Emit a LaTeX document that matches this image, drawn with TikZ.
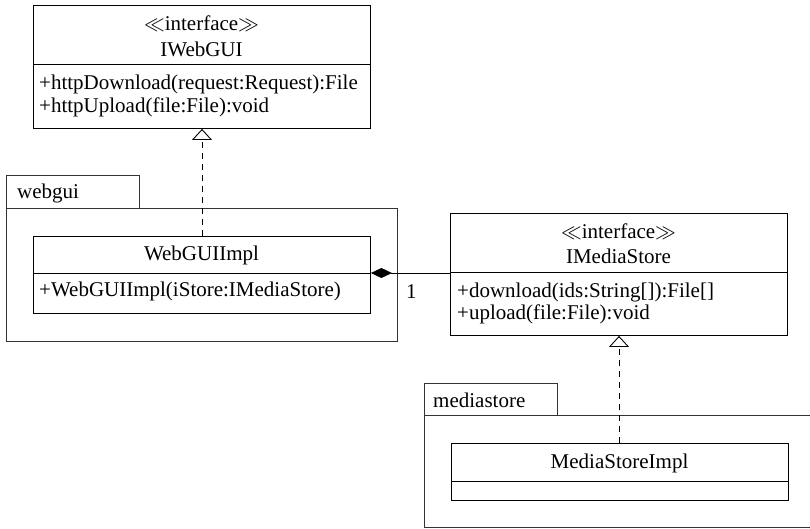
\documentclass[tikz,border=0pt]{standalone}
\usepackage{fontspec}
\setmainfont{Liberation Serif}
\usetikzlibrary{arrows.meta}
\tikzset{
  umlbox/.style={draw, line width=0.9pt, anchor=north west, inner sep=0pt},
  pkgbox/.style={draw, line width=0.9pt, draw=black!80, anchor=north west, inner sep=0pt},
  txt/.style={inner sep=0pt, font=\fontsize{21}{25}\selectfont},
  realize/.style={line width=0.9pt, dash pattern=on 6pt off 5pt, -{Triangle[open, length=11pt, width=20pt]}},
  compose/.style={line width=0.9pt, {Diamond[length=21pt, width=10pt]}-},
}
\begin{document}
\begin{tikzpicture}[x=1pt, y=-1pt]
\useasboundingbox (0,0) rectangle (810,528);
% packages
\node[pkgbox, minimum width=133pt, minimum height=33pt] (webguitab) at (6,175) {};
\node[pkgbox, minimum width=391pt, minimum height=133pt] (webguipkg) at (6,208) {};
\node[txt, anchor=base west] (webguilbl) at (17,198) {webgui};
\node[pkgbox, minimum width=133pt, minimum height=32pt] (mstab) at (424,383) {};
\node[pkgbox, minimum width=420pt, minimum height=111.5pt] (mspkg) at (424,415) {};
\node[txt, anchor=base west] (mslbl) at (433,407) {mediastore};
% IWebGUI
\node[umlbox, fill=white, minimum width=337pt, minimum height=123pt] (iwebgui) at (33,5) {};
\draw[line width=0.9pt] (33,64) -- (370,64);
\node[txt, anchor=base] (iwebguist) at (201.5,30) {$\ll$interface$\gg$};
\node[txt, anchor=base] (iwebguiname) at (201.5,56) {IWebGUI};
\node[txt, anchor=base west] (iwebguim1) at (39,89) {+httpDownload(request:Request):File};
\node[txt, anchor=base west] (iwebguim2) at (39,112) {+httpUpload(file:File):void};
% WebGUIImpl
\node[umlbox, fill=white, minimum width=337pt, minimum height=77pt] (webguiimpl) at (33,236) {};
\draw[line width=0.9pt] (33,273) -- (370,273);
\node[txt, anchor=base] (webguiimplname) at (201.5,260) {WebGUIImpl};
\node[txt, anchor=base west] (webguiimplm1) at (39,296) {+WebGUIImpl(iStore:IMediaStore)};
% IMediaStore
\node[umlbox, fill=white, minimum width=337pt, minimum height=122pt] (imediastore) at (450,213) {};
\draw[line width=0.9pt] (450,272) -- (787,272);
\node[txt, anchor=base] (imsst) at (618.5,238) {$\ll$interface$\gg$};
\node[txt, anchor=base] (imsname) at (618.5,263) {IMediaStore};
\node[txt, anchor=base west] (imsm1) at (457,297) {+download(ids:String[]):File[]};
\node[txt, anchor=base west] (imsm2) at (457,319) {+upload(file:File):void};
% MediaStoreImpl
\node[umlbox, fill=white, minimum width=337pt, minimum height=57pt] (msimpl) at (451,443) {};
\draw[line width=0.9pt] (451,481) -- (788,481);
\node[txt, anchor=base] (msimplname) at (619.5,468) {MediaStoreImpl};
% connectors
\coordinate (r1) at (202,0);
\draw[realize] (r1 |- webguiimpl.north) -- (r1 |- iwebgui.south);
\coordinate (r2) at (619,0);
\draw[realize] (r2 |- msimpl.north) -- (r2 |- imediastore.south);
\coordinate (cy) at (0,273);
\draw[compose] (webguiimpl.east |- cy) -- (imediastore.west |- cy);
\node[txt, anchor=base west] (mult) at (406,298) {1};
\end{tikzpicture}
\end{document}
